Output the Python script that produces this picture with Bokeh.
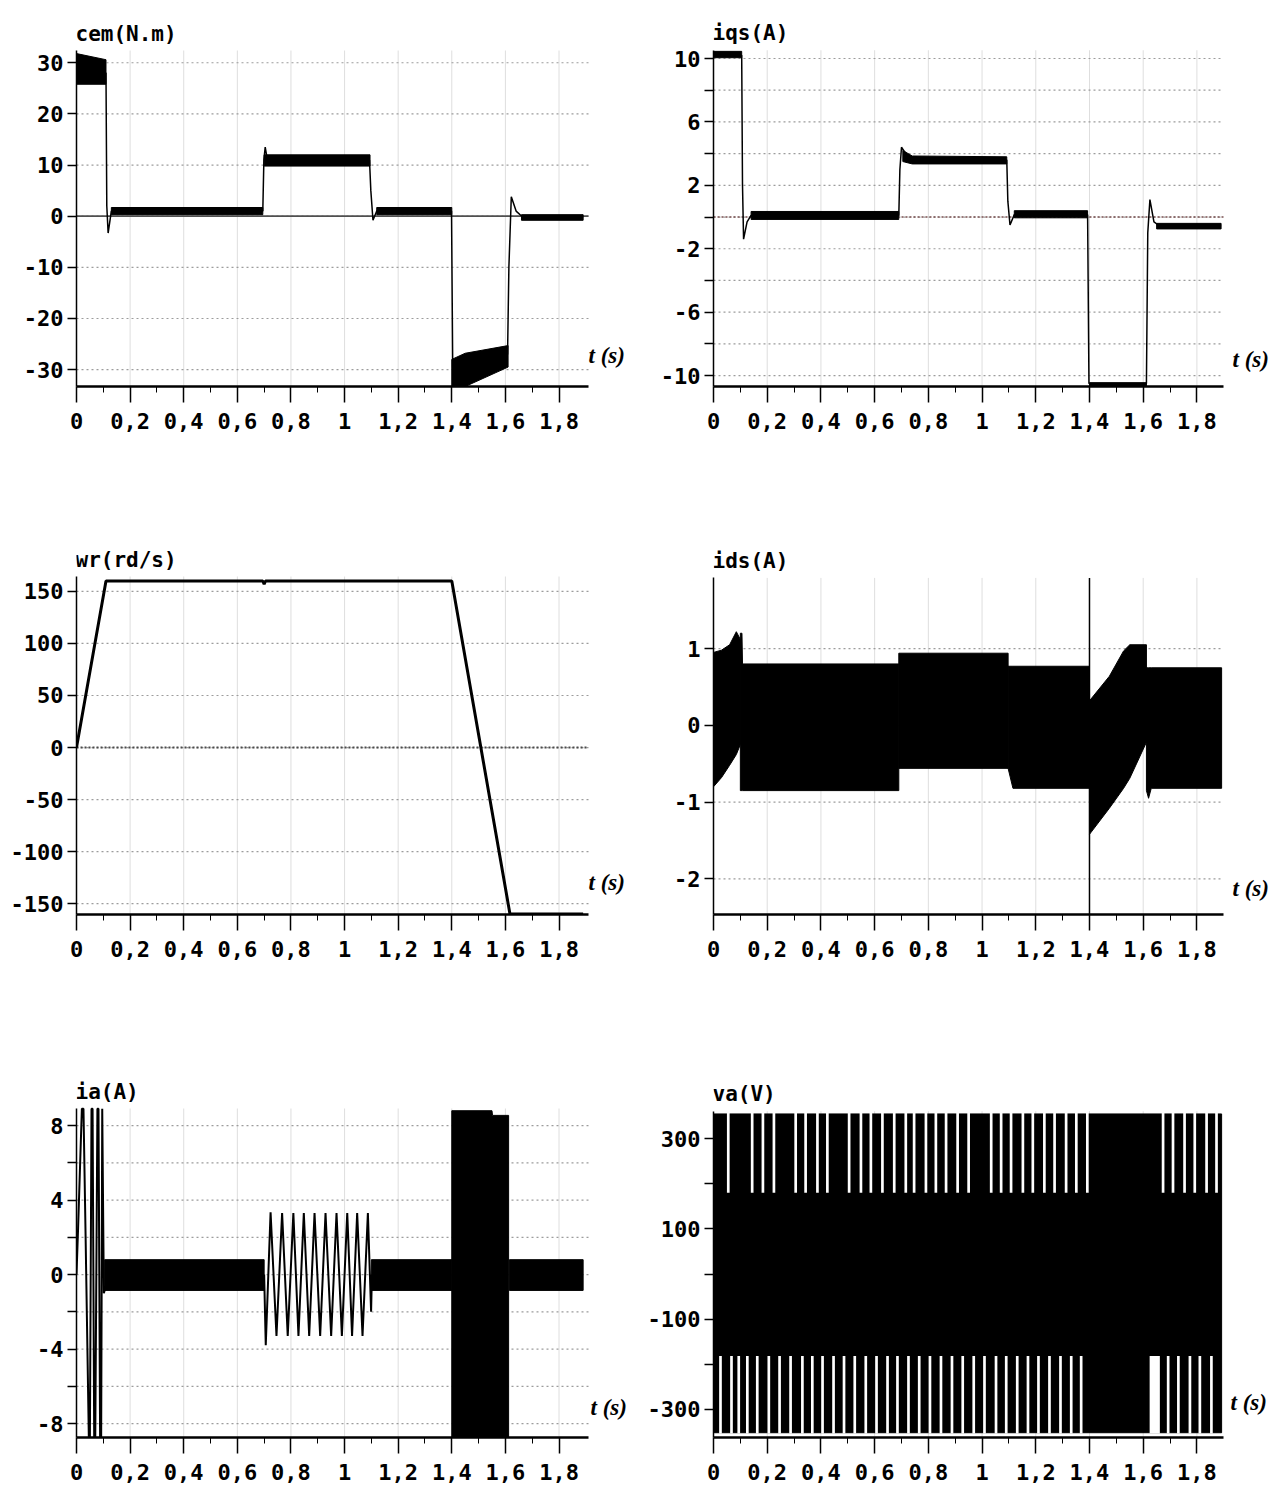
from bokeh.plotting import figure
from bokeh.layouts import column, row
from bokeh.models import FixedTicker, Label
from bokeh.embed import file_html
from bokeh.resources import INLINE

# ---------------- data ----------------
x_ticks = [0, 0.2, 0.4, 0.6, 0.8, 1.0, 1.2, 1.4, 1.6, 1.8]
x_tick_labels = ["0", "0,2", "0,4", "0,6", "0,8", "1", "1,2", "1,4", "1,6", "1,8"]
x_minor_ticks = [0.1, 0.3, 0.5, 0.7, 0.9, 1.1, 1.3, 1.5, 1.7]

# cem (N.m) : noisy bands (t, low, high) + thin transition trace
cem_y_ticks = [30, 20, 10, 0, -10, -20, -30]
cem_y_labels = ["30", "20", "10", "0", "-10", "-20", "-30"]
cem_band_t = [[0.000, 0.110], [0.130, 0.695], [0.700, 1.095], [1.120, 1.400],
              [1.400, 1.450, 1.610], [1.660, 1.890]]
cem_band_lo = [[25.8, 25.8], [0.3, 0.3], [9.8, 9.8], [0.3, 0.3],
               [-33.3, -33.3, -29.5], [-0.8, -0.8]]
cem_band_hi = [[31.8, 30.6], [1.7, 1.7], [12.0, 12.0], [1.7, 1.7],
               [-28.0, -26.8, -25.3], [0.3, 0.3]]
cem_trace_t = [0.000, 0.110, 0.113, 0.118, 0.130, 0.695, 0.699, 0.704, 0.712, 1.093,
               1.098, 1.106, 1.120, 1.399, 1.404, 1.608, 1.613, 1.622, 1.640, 1.665, 1.890]
cem_trace_v = [28.0, 28.0, 2.0, -3.3, 1.0, 1.0, 11.0, 13.5, 11.0, 11.0,
               5.0, -0.8, 1.0, 1.0, -33.0, -27.0, -10.0, 3.8, 1.0, -0.2, -0.2]

# iqs (A)
iqs_y_ticks = [10, 8, 6, 4, 2, 0, -2, -4, -6, -8, -10]
iqs_y_labels = ["10", "", "6", "", "2", "", "-2", "", "-6", "", "-10"]
iqs_band_t = [[0.000, 0.105], [0.140, 0.690], [0.705, 0.740, 1.092], [1.120, 1.393],
              [1.400, 1.612], [1.650, 1.890]]
iqs_band_lo = [[10.05, 10.05], [-0.15, -0.15], [3.50, 3.35, 3.35], [-0.05, -0.05],
               [-10.69, -10.69], [-0.75, -0.75]]
iqs_band_hi = [[10.45, 10.45], [0.35, 0.35], [4.20, 3.85, 3.80], [0.40, 0.40],
               [-10.45, -10.45], [-0.40, -0.40]]
iqs_trace_t = [0.000, 0.105, 0.108, 0.112, 0.125, 0.140, 0.690, 0.694, 0.700, 0.720,
               0.740, 1.092, 1.096, 1.104, 1.120, 1.393, 1.398, 1.612, 1.617, 1.625,
               1.640, 1.660, 1.890]
iqs_trace_v = [10.2, 10.2, 2.0, -1.4, -0.3, 0.1, 0.1, 3.0, 4.4, 3.9,
               3.6, 3.6, 1.0, -0.5, 0.15, 0.15, -10.5, -10.5, -1.0, 1.1,
               -0.3, -0.55, -0.55]

# wr (rd/s)
wr_y_ticks = [150, 100, 50, 0, -50, -100, -150]
wr_y_labels = ["150", "100", "50", "0", "-50", "-100", "-150"]
wr_t = [0.000, 0.110, 0.695, 0.700, 0.705, 1.400, 1.617, 1.890]
wr_v = [0.0, 160.0, 160.0, 157.0, 160.0, 160.0, -160.0, -160.0]

# ids (A)
ids_y_ticks = [1, 0, -1, -2]
ids_y_labels = ["1", "0", "-1", "-2"]
ids_band_t = [[0.000, 0.030, 0.060, 0.085, 0.100],
              [0.100, 0.106, 0.108, 0.690],
              [0.690, 1.097],
              [1.097, 1.115, 1.400],
              [1.400, 1.474, 1.527, 1.550, 1.612],
              [1.612, 1.620, 1.630, 1.892]]
ids_band_lo = [[-0.80, -0.68, -0.52, -0.38, -0.25],
               [-0.85, -0.85, -0.85, -0.85],
               [-0.56, -0.56],
               [-0.56, -0.82, -0.82],
               [-1.42, -1.08, -0.82, -0.69, -0.22],
               [-0.85, -0.95, -0.82, -0.82]]
ids_band_hi = [[0.95, 0.98, 1.05, 1.22, 1.12],
               [1.20, 1.20, 0.80, 0.80],
               [0.94, 0.94],
               [0.77, 0.77, 0.77],
               [0.32, 0.64, 0.97, 1.05, 1.05],
               [0.75, 0.75, 0.75, 0.75]]
ids_marker_t = 1.4

# ia (A)  (start-up swings are clipped at the plot limits, as in the picture)
ia_y_ticks = [8, 6, 4, 2, 0, -2, -4, -6, -8]
ia_y_labels = ["8", "", "4", "", "0", "", "-4", "", "-8"]
ia_start_t = [0.000, 0.006, 0.020, 0.026, 0.034, 0.046, 0.050, 0.056, 0.060,
              0.066, 0.070, 0.078, 0.082, 0.088, 0.092, 0.096, 0.102, 0.110]
ia_start_v = [0.0, 2.5, 8.9, 8.9, 2.0, -8.75, -8.75, 8.9, 8.9,
              -8.75, -8.75, 8.9, 8.9, -8.75, -8.75, 8.9, -1.0, -0.6]
ia_osc_t = [0.700, 0.706, 0.724, 0.746, 0.767, 0.788, 0.809, 0.828, 0.848, 0.868, 0.888,
            0.909, 0.929, 0.950, 0.970, 0.990, 1.010, 1.028, 1.047, 1.067, 1.087, 1.099, 1.102]
ia_osc_v = [0.0, -3.8, 3.35, -3.3, 3.3, -3.3, 3.3, -3.3, 3.3, -3.3, 3.3,
            -3.3, 3.3, -3.3, 3.3, -3.3, 3.3, -3.3, 3.3, -3.3, 3.3, -2.0, 0.0]
ia_band_t = [[0.105, 0.700], [1.100, 1.400], [1.400, 1.550, 1.552, 1.612], [1.615, 1.890]]
ia_band_lo = [[-0.85, -0.85], [-0.85, -0.85], [-8.75, -8.75, -8.75, -8.75], [-0.85, -0.85]]
ia_band_hi = [[0.80, 0.80], [0.80, 0.80], [8.80, 8.80, 8.55, 8.55], [0.80, 0.80]]

# va (V) : PWM levels and the white gaps between pulses
va_y_ticks = [300, 200, 100, 0, -100, -200, -300]
va_y_labels = ["300", "", "100", "", "-100", "", "-300"]
va_span_t = [0.000, 1.892]
va_levels = [-352.0, -182.0, 180.0, 355.0]
va_top_gap_t = [0.055, 0.144, 0.184, 0.225, 0.306, 0.343, 0.387, 0.424, 0.505, 0.549,
                0.586, 0.629, 0.673, 0.716, 0.747, 0.791, 0.828, 0.866, 0.909, 0.950,
                1.034, 1.071, 1.108, 1.152, 1.189, 1.232, 1.270, 1.313, 1.351, 1.392,
                1.674, 1.711, 1.754, 1.792, 1.836, 1.873]
va_bot_gap_t = [0.026, 0.067, 0.094, 0.126, 0.163, 0.206, 0.246, 0.287, 0.331, 0.368,
                0.406, 0.447, 0.486, 0.526, 0.567, 0.607, 0.648, 0.685, 0.726, 0.766,
                0.806, 0.847, 0.888, 0.928, 0.969, 1.009, 1.052, 1.090, 1.131, 1.171,
                1.210, 1.251, 1.292, 1.332, 1.369, 1.693, 1.731, 1.774, 1.811, 1.854]
va_bot_wide_gap = [1.624, 1.662]
va_gap_width = 0.010

# ---------------- styling helpers ----------------
TICK_FONT = "DejaVu Sans Mono"
T_FONT = "Liberation Serif"
BORDER_TOP = 4


def make_panel(width, height, bl, bb, x_bound, y_bounds, axis_h, y_ticks, y_labels,
               title, tlabel_y, tlabel_dx):
    """Frame is enlarged upward and to the right so that the title and the
    't (s)' label sit inside it; the axes are limited with bounds."""
    frame_w = width - bl
    frame_h = height - BORDER_TOP - bb
    axis_w = 512 if bl == 76 else 510
    x_end = x_bound * frame_w / axis_w
    y0, y1 = y_bounds
    y_end = y0 + (y1 - y0) * frame_h / axis_h

    p = figure(width=width, height=height, x_range=(0, x_end), y_range=(y0, y_end),
               output_backend="svg", toolbar_location=None,
               min_border_left=bl, min_border_right=0,
               min_border_top=BORDER_TOP, min_border_bottom=bb)
    p.outline_line_color = None
    p.background_fill_color = "white"
    p.border_fill_color = "white"
    p.xgrid.visible = False
    p.ygrid.visible = False

    xa = p.xaxis[0]
    xa.bounds = (0, x_bound)
    xa.ticker = FixedTicker(ticks=x_ticks, minor_ticks=x_minor_ticks)
    xa.major_label_overrides = dict(zip(x_ticks, x_tick_labels))
    xa.major_tick_out = 16
    xa.major_tick_in = 0
    xa.minor_tick_out = 6
    xa.minor_tick_in = 0
    xa.axis_line_width = 2.5
    xa.major_tick_line_width = 1.5
    xa.major_label_standoff = 10
    xa.major_label_text_font = TICK_FONT
    xa.major_label_text_font_style = "bold"
    xa.major_label_text_font_size = "22px"
    xa.major_label_text_color = "black"

    ya = p.yaxis[0]
    ya.bounds = (y0, y1)
    ya.ticker = FixedTicker(ticks=y_ticks)
    ya.major_label_overrides = dict(zip(y_ticks, y_labels))
    ya.major_tick_out = 9
    ya.major_tick_in = 0
    ya.minor_tick_out = 0
    ya.minor_tick_in = 0
    ya.axis_line_width = 1.5
    ya.major_tick_line_width = 1.5
    ya.major_label_standoff = 4
    ya.major_label_text_font = TICK_FONT
    ya.major_label_text_font_style = "bold"
    ya.major_label_text_font_size = "22px"
    ya.major_label_text_color = "black"

    # grid: faint vertical lines, dotted horizontal lines, limited to the axes
    vx = [t for t in x_ticks if t > 0]
    p.segment(x0=vx, x1=vx, y0=[y0] * len(vx), y1=[y1] * len(vx),
              line_color="#dedede", line_width=1)
    p.segment(x0=[0] * len(y_ticks), x1=[x_bound] * len(y_ticks), y0=y_ticks, y1=y_ticks,
              line_color="#9c9c9c", line_width=1.2, line_dash="2 3")

    p.add_layout(Label(x=0, y=y1, x_offset=-1, y_offset=5, text=title,
                       text_align="left", text_baseline="bottom",
                       text_font=TICK_FONT, text_font_style="bold",
                       text_font_size="21px", text_color="black"))
    p.add_layout(Label(x=x_bound, y=tlabel_y, x_offset=tlabel_dx, text="t (s)",
                       text_align="left", text_baseline="middle",
                       text_font=T_FONT, text_font_style="bold italic",
                       text_font_size="23px", text_color="black"))
    return p


def add_bands(p, ts, los, his, color="black"):
    xs = [list(t) + list(t)[::-1] for t in ts]
    ys = [list(h) + list(l)[::-1] for l, h in zip(los, his)]
    p.patches(xs, ys, fill_color=color, line_color=color, line_width=1)


def hline(p, y, x1, **kw):
    p.segment(x0=[0], x1=[x1], y0=[y], y1=[y], **kw)


XL, XR = 1.910, 1.899

# cem
p1 = make_panel(640, 490, 76, 104, XL, (-33.3, 32.4), 336,
                cem_y_ticks, cem_y_labels, "cem(N.m)", -27.3, 0)
hline(p1, 0, XL, line_color="#505050", line_width=1.8)
add_bands(p1, cem_band_t, cem_band_lo, cem_band_hi)
p1.line(cem_trace_t, cem_trace_v, line_color="black", line_width=1.5)

# iqs
p2 = make_panel(641, 490, 73, 102, XR, (-10.69, 10.52), 338,
                iqs_y_ticks, iqs_y_labels, "iqs(A)", -9.0, 9)
hline(p2, 0, XR, line_color="#7a5050", line_width=1.5, line_dash="2 2")
add_bands(p2, iqs_band_t, iqs_band_lo, iqs_band_hi)
p2.line(iqs_trace_t, iqs_trace_v, line_color="black", line_width=1.5)

# wr
p3 = make_panel(640, 530, 76, 106, XL, (-160.4, 164.3), 338,
                wr_y_ticks, wr_y_labels, "wr(rd/s)", -129.7, 0)
hline(p3, 0, XL, line_color="#4a4a4a", line_width=2, line_dash="2 2")
p3.line(wr_t, wr_v, line_color="black", line_width=3)

# ids
p4 = make_panel(641, 530, 73, 103, XR, (-2.464, 1.921), 339,
                ids_y_ticks, ids_y_labels, "ids(A)", -2.13, 9)
p4.segment(x0=[ids_marker_t], x1=[ids_marker_t], y0=[-2.464], y1=[1.921],
           line_color="black", line_width=1.5)
add_bands(p4, ids_band_t, ids_band_lo, ids_band_hi)

# ia
p5 = make_panel(640, 489, 76, 72, XL, (-8.75, 8.92), 329,
                ia_y_ticks, ia_y_labels, "ia(A)", -7.15, 2)
add_bands(p5, ia_band_t, ia_band_lo, ia_band_hi)
p5.line(ia_start_t, ia_start_v, line_color="black", line_width=2)
p5.line(ia_osc_t, ia_osc_v, line_color="black", line_width=2)

# va
p6 = make_panel(641, 489, 73, 66, XR, (-362.6, 361.0), 331,
                va_y_ticks, va_y_labels, "va(V)", -284.0, 7)
p6.quad(left=[va_span_t[0]], right=[va_span_t[1]], bottom=[va_levels[0]], top=[va_levels[3]],
        fill_color="black", line_color="black")
hw = va_gap_width / 2
p6.quad(left=[t - hw for t in va_top_gap_t], right=[t + hw for t in va_top_gap_t],
        bottom=[va_levels[2]] * len(va_top_gap_t), top=[va_levels[3] + 2] * len(va_top_gap_t),
        fill_color="white", line_color=None)
p6.quad(left=[t - hw for t in va_bot_gap_t], right=[t + hw for t in va_bot_gap_t],
        bottom=[va_levels[0] - 2] * len(va_bot_gap_t), top=[va_levels[1]] * len(va_bot_gap_t),
        fill_color="white", line_color=None)
p6.quad(left=[va_bot_wide_gap[0]], right=[va_bot_wide_gap[1]],
        bottom=[va_levels[0] - 2], top=[va_levels[1]], fill_color="white", line_color=None)

layout = column(row(p1, p2), row(p3, p4), row(p5, p6))

open("out.html", "w").write(file_html(layout, INLINE))
